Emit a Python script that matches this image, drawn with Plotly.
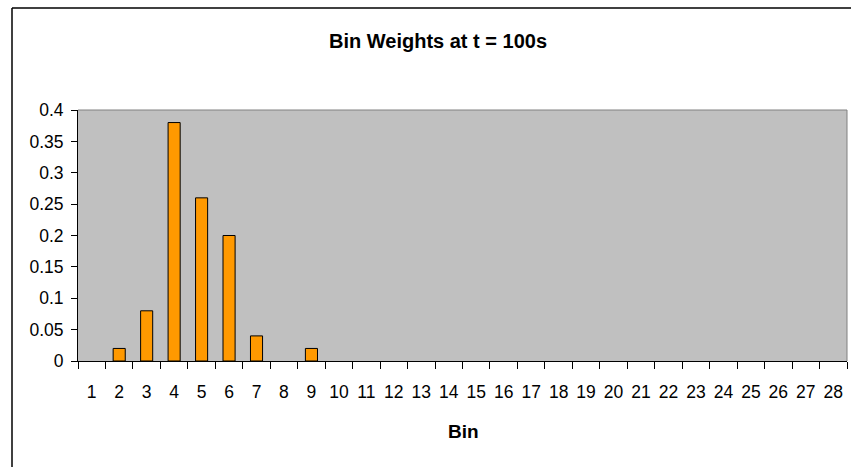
import plotly.graph_objects as go

bins = [str(i) for i in range(1, 29)]
weights = [0, 0.02, 0.08, 0.38, 0.26, 0.20, 0.04, 0, 0.02] + [0] * 19
y_ticks = [0, 0.05, 0.1, 0.15, 0.2, 0.25, 0.3, 0.35, 0.4]

W, H = 851, 467
L, R, T, B = 78, 4, 110, 106
pw = W - L - R
ph = H - T - B

def px_x(x):
    return (x - L) / pw

def px_y(y):
    return (H - B - y) / ph

fig = go.Figure(go.Bar(
    x=bins, y=weights,
    marker=dict(color="#FF9900",
                line=dict(color="black", width=[1 if w > 0 else 0 for w in weights])),
))

font = "Liberation Sans, Arial, sans-serif"

fig.update_layout(
    width=W, height=H,
    margin=dict(l=L, r=R, t=T, b=B, pad=0),
    paper_bgcolor="white",
    plot_bgcolor="#C0C0C0",
    bargap=0.56,
    showlegend=False,
    font=dict(family=font, size=17, color="black"),
    xaxis=dict(
        type="category", tickson="boundaries", ticks="outside", ticklen=7,
        tickcolor="black", showline=True, linecolor="black", linewidth=1,
        showgrid=False, ticklabelstandoff=15, tickangle=0,
        tickfont=dict(size=17.5),
    ),
    yaxis=dict(
        range=[0, 0.4], tickvals=y_ticks, ticks="outside", ticklen=6,
        tickcolor="black", showline=True, linecolor="black", linewidth=1,
        showgrid=False, zeroline=False, ticklabelstandoff=4,
        tickfont=dict(size=17.5),
    ),
    annotations=[
        dict(text="<b>Bin Weights at t = 100s</b>", xref="paper", yref="paper",
             x=px_x(438), y=px_y(41), xanchor="center", yanchor="middle",
             showarrow=False, font=dict(size=20)),
        dict(text="<b>Bin</b>", xref="paper", yref="paper",
             x=px_x(463), y=px_y(431), xanchor="center", yanchor="middle",
             showarrow=False, font=dict(size=19)),
    ],
    shapes=[
        dict(type="line", xref="paper", yref="paper",
             x0=px_x(12), x1=px_x(12), y0=px_y(8), y1=px_y(500),
             line=dict(color="black", width=1.5)),
        dict(type="line", xref="paper", yref="paper",
             x0=px_x(12), x1=px_x(900), y0=px_y(8), y1=px_y(8),
             line=dict(color="black", width=1.5)),
        dict(type="line", xref="paper", yref="paper",
             x0=0, x1=1, y0=1, y1=1, line=dict(color="#808080", width=1)),
        dict(type="line", xref="paper", yref="paper",
             x0=1, x1=1, y0=0, y1=1, line=dict(color="#808080", width=1)),
    ],
)

fig.write_html("out.html", config={"displayModeBar": False},
               post_script="document.body.style.margin='0';document.body.style.overflow='hidden';")
